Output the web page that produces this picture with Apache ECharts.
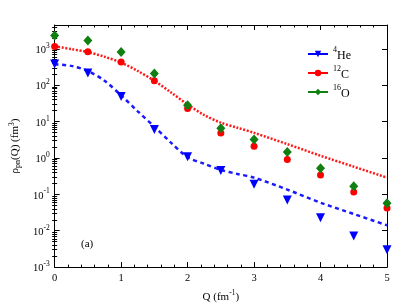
<!DOCTYPE html>
<html><head><meta charset="utf-8">
<script src="https://cdn.jsdelivr.net/npm/echarts@6/dist/echarts.min.js"></script>
<style>html,body{margin:0;padding:0;background:#fff}#c{width:399px;height:308px}</style>
</head><body><div id="c"></div>
<script>
// Data points (Q in fm^-1, rho_pn in fm^3)
const Q = [0, 0.5, 1, 1.5, 2, 2.5, 3, 3.5, 4, 4.5, 5];
const he4 = [380, 215, 49, 6.0, 1.08, 0.45, 0.19, 0.07, 0.0226, 0.0072, 0.003];
const c12 = [1150, 830, 430, 133, 23, 4.85, 2.1, 0.91, 0.34, 0.115, 0.042];
const o16 = [2300, 1700, 815, 210, 28, 6.5, 3.2, 1.45, 0.52, 0.166, 0.057];
// Theory curves
const Qcurve = [0, 0.25, 0.5, 0.75, 1, 1.25, 1.5, 1.75, 2, 2.25, 2.5, 2.75, 3, 3.5, 4, 4.5, 5];
const cCurve = [1175, 977, 813, 603, 417, 245, 132, 63.1, 29.5, 15.1, 9.3, 6.76, 4.9, 2.4, 1.15, 0.575, 0.288];
const heCurve = [372, 339, 245, 132, 52.5, 19.1, 7.24, 2.63, 1.047, 0.692, 0.468, 0.363, 0.288, 0.135, 0.0589, 0.0288, 0.0141];
const xTicks = [0, 1, 2, 3, 4, 5];
const yMin = 0.001, yMax = 4500;
const legendNames = {'4He': '{s|4}{n|He}', '12C': '{s|12}{n|C}', '16O': '{s|16}{n|O}'};

const F = 'Liberation Serif';
function pairs(xs, ys) { return xs.map((x, i) => [x, ys[i]]); }
const minorVals = [];
for (let e = -3; e <= 3; e++) for (let k = 2; k <= 9; k++) { const v = k * Math.pow(10, e); if (v < yMax) minorVals.push(v); }
const majorVals = [];
for (let e = -3; e <= 3; e++) majorVals.push(Math.pow(10, e));

const supRich = {
  b: {fontFamily: F, fontSize: 10.5, color: '#000', lineHeight: 14, verticalAlign: 'bottom'},
  s: {fontFamily: F, fontSize: 7.5, color: '#000', lineHeight: 14, verticalAlign: 'top'}
};
function yLabel(v) {
  const e = Math.round(Math.log10(v));
  if (Math.abs(Math.log10(v) - e) > 1e-6) return '';
  return '{b|10}{s|' + e + '}';
}
const yBase = {type: 'log', logBase: 10, min: yMin, max: yMax, splitLine: {show: false}, gridIndex: 0};
const chart = echarts.init(document.getElementById('c'), null, {renderer: 'canvas'});
chart.setOption({
  animation: false,
  backgroundColor: '#fff',
  grid: {left: 52, right: 12, top: 25, bottom: 35, show: false},
  xAxis: [
    {type: 'value', position: 'bottom', min: 0, max: 5, interval: 1,
     axisLine: {show: true, lineStyle: {color: '#000', width: 1}},
     axisTick: {show: true, inside: true, length: 5, lineStyle: {color: '#000'}},
     minorTick: {show: true, splitNumber: 5, length: 2.5, lineStyle: {color: '#000'}},
     splitLine: {show: false}, minorSplitLine: {show: false},
     axisLabel: {fontFamily: F, fontSize: 10.5, color: '#000', margin: 6},
     name: '{b|Q (fm}{s|-1}{b|)}', nameLocation: 'middle', nameGap: 19,
     nameTextStyle: {rich: {
       b: {fontFamily: F, fontSize: 11, color: '#000', lineHeight: 14, verticalAlign: 'bottom'},
       s: {fontFamily: F, fontSize: 7.5, color: '#000', lineHeight: 14, verticalAlign: 'top'}}}},
    {type: 'value', position: 'top', min: 0, max: 5, interval: 1,
     axisLine: {show: true, onZero: false, lineStyle: {color: '#000', width: 1}},
     axisTick: {show: true, inside: true, length: 5, lineStyle: {color: '#000'}},
     minorTick: {show: true, splitNumber: 5, length: 2.5, lineStyle: {color: '#000'}},
     splitLine: {show: false}, axisLabel: {show: false}}
  ],
  yAxis: [
    Object.assign({}, yBase, {position: 'left',
     axisLine: {show: true, onZero: false, lineStyle: {color: '#000', width: 1}},
     axisTick: {show: true, inside: true, length: 5, customValues: majorVals, lineStyle: {color: '#000'}},
     axisLabel: {customValues: majorVals, formatter: yLabel, rich: supRich, margin: 5},
     name: '{b|ρ}{u|pn}{b|(Q) (fm}{s|3}{b|)}', nameLocation: 'middle', nameGap: 30, nameRotate: 90,
     nameTextStyle: {rich: {
       b: {fontFamily: F, fontSize: 11, color: '#000', lineHeight: 14, verticalAlign: 'middle'},
       u: {fontFamily: F, fontSize: 8, color: '#000', lineHeight: 14, verticalAlign: 'bottom'},
       s: {fontFamily: F, fontSize: 7.5, color: '#000', lineHeight: 14, verticalAlign: 'top'}}}}),
    Object.assign({}, yBase, {position: 'left',
     axisLine: {show: false}, axisLabel: {show: false},
     axisTick: {show: true, inside: true, length: 2.5, customValues: minorVals, lineStyle: {color: '#000'}}}),
    Object.assign({}, yBase, {position: 'right',
     axisLine: {show: true, onZero: false, lineStyle: {color: '#000', width: 1}}, axisLabel: {show: false},
     axisTick: {show: true, inside: true, length: 5, customValues: majorVals, lineStyle: {color: '#000'}}}),
    Object.assign({}, yBase, {position: 'right',
     axisLine: {show: false}, axisLabel: {show: false},
     axisTick: {show: true, inside: true, length: 2.5, customValues: minorVals, lineStyle: {color: '#000'}}})
  ],
  legend: {
    data: ['4He', '12C', '16O'], orient: 'vertical', left: 302, top: 41, itemGap: 3,
    itemWidth: 20, itemHeight: 8,
    formatter: n => legendNames[n],
    lineStyle: {opacity: 1, width: 2},
    textStyle: {rich: {
      n: {fontFamily: F, fontSize: 12, color: '#000', lineHeight: 16, verticalAlign: 'bottom'},
      s: {fontFamily: F, fontSize: 8, color: '#000', lineHeight: 16, verticalAlign: 'top'}}}
  },
  graphic: [{type: 'text', left: 81, top: 239, style: {text: '(a)', font: '11px "Liberation Serif"', fill: '#000'}}],
  series: [
    {name: 'cTheory', type: 'line', data: pairs(Qcurve, cCurve), smooth: 0.3, showSymbol: false, z: 2,
     lineStyle: {color: '#ff1a1a', width: 2.5, type: [2, 1.6]}},
    {name: 'heTheory', type: 'line', data: pairs(Qcurve, heCurve), smooth: 0.3, showSymbol: false, z: 2,
     lineStyle: {color: '#1a1aff', width: 2.5, type: [4, 3.5]}},
    {name: '4He', type: 'line', data: pairs(Q, he4), symbol: 'triangle', symbolRotate: 180, symbolSize: 9, showSymbol: true, z: 3,
     itemStyle: {color: '#0000ff'}, lineStyle: {color: '#0000ff', opacity: 0, width: 2}},
    {name: '12C', type: 'line', data: pairs(Q, c12), symbol: 'circle', symbolSize: 7, z: 3,
     itemStyle: {color: '#ff0000'}, lineStyle: {color: '#ff0000', opacity: 0, width: 2}},
    {name: '16O', type: 'line', data: pairs(Q, o16), symbol: 'diamond', symbolSize: [9, 10], z: 4,
     itemStyle: {color: '#108010'}, lineStyle: {color: '#108010', opacity: 0, width: 2}}
  ]
});
</script></body></html>
